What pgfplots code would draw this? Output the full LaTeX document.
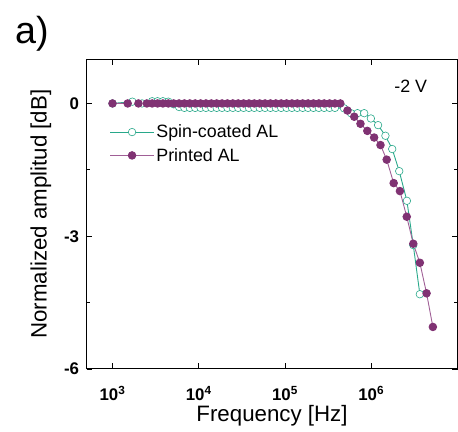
\documentclass[border=0pt]{standalone}
\usepackage{fontspec}
\setmainfont{Liberation Sans}
\usepackage{pgfplots}
\pgfplotsset{compat=1.18}
\usetikzlibrary{calc}
\definecolor{tealc}{RGB}{40,168,138}
\definecolor{purpm}{RGB}{128,50,115}
\definecolor{purpl}{RGB}{160,95,150}
\begin{document}
\begin{tikzpicture}
\begin{axis}[
  name=ax, at={(0,0)}, anchor=south west,
  scale only axis, width=373bp, height=311.5bp,
  xmode=log, log basis x=10,
  xmin=500, xmax=1e7, ymin=-6, ymax=1,
  xtick={1e3,1e4,1e5,1e6},
  xticklabels={{\textbf{10}\textsuperscript{\textbf{3}}},{\textbf{10}\textsuperscript{\textbf{4}}},{\textbf{10}\textsuperscript{\textbf{5}}},{\textbf{10}\textsuperscript{\textbf{6}}}},
  ytick={-6,-3,0}, yticklabels={\textbf{-6},\textbf{-3},\textbf{0}},
  minor ytick={-4.5,-1.5},
  tick align=inside,
  major tick length=6bp, minor tick length=3.5bp,
  every tick/.style={black, line width=0.8pt},
  axis line style={line width=1pt},
  tick label style={font=\fontsize{17}{17}\selectfont},
  xticklabel style={yshift=-14bp},
  yticklabel style={xshift=-4bp},
  xlabel={Frequency [Hz]}, ylabel={Normalized amplitud [dB]},
  label style={font=\fontsize{22.5}{22.5}\selectfont},
  xlabel style={yshift=2bp},
  ylabel style={yshift=6bp},
  legend cell align=left,
  legend style={at={(rel axis cs:0.062,0.795)}, anchor=north west, draw=none, fill=none,
    inner sep=0pt, row sep=5bp, font=\fontsize{18}{18}\selectfont,
    /tikz/every even column/.append style={column sep=0pt}},
  legend image code/.code={\draw[mark repeat=2,mark phase=2] plot coordinates {(0bp,0bp) (22bp,0bp) (44bp,0bp)};},
]
\addplot[color=tealc, line width=0.9pt, mark=*, mark size=3.8bp, mark options={fill=white, draw=tealc, line width=0.6pt}] coordinates {
(1000,0) (1700,0.04) (2200,0.0) (2885,0.05) (3331,0.05) (3845,0.05) (4438,0.04) (5123,-0.02) (5913,-0.08)
(6826,-0.1) (7880,-0.1) (9095,-0.1) (10499,-0.1) (12119,-0.1) (13989,-0.1) (16150,-0.1) (18641,-0.1)
(21518,-0.1) (24834,-0.1) (28666,-0.1) (33091,-0.1) (38194,-0.1) (44089,-0.1) (50893,-0.1) (58747,-0.1)
(67815,-0.1) (78278,-0.1) (90358,-0.1) (104300,-0.1) (120390,-0.1) (138970,-0.1) (160420,-0.1) (185170,-0.1)
(213740,-0.1) (246720,-0.1) (284800,-0.1) (328740,-0.1) (379460,-0.1)
(483000,-0.11) (582000,-0.22) (693000,-0.22) (828000,-0.22) (990000,-0.34) (1200000,-0.49)
(1460000,-0.73) (1750000,-1.03) (2110000,-1.53) (2590000,-2.20) (3070000,-3.2) (3660000,-4.31)
};
\addlegendentry{Spin-coated AL}
\addplot[color=purpl, line width=0.9pt, mark=*, mark size=3.8bp, mark options={fill=purpm, draw=purpm}] coordinates {
(1000,0) (1500,0) (2000,0) (2500,0) (2885,0) (3331,0) (3845,0) (4438,0) (5123,0) (5913,0)
(6826,0) (7880,0) (9095,0) (10499,0) (12119,0) (13989,0) (16150,0) (18641,0)
(21518,0) (24834,0) (28666,0) (33091,0) (38194,0) (44089,0) (50893,0) (58747,0)
(67815,0) (78278,0) (90358,0) (104300,0) (120390,0) (138970,0) (160420,0) (185170,0)
(213740,0) (246720,0) (284800,0) (328740,0) (379460,0) (438000,0)
(530000,-0.16) (635000,-0.30) (750000,-0.46) (900000,-0.62) (1080000,-0.77) (1280000,-0.94)
(1510000,-1.27) (1820000,-1.80) (2150000,-1.98) (2580000,-2.56) (3070000,-3.17) (3660000,-3.60)
(4380000,-4.29) (5180000,-5.05)
};
\addlegendentry{Printed AL}
\node[font=\fontsize{18}{18}\selectfont] at (rel axis cs:0.874,0.912) {-2 V};
\end{axis}
\node[font=\fontsize{38}{38}\selectfont] at ($(ax.south west)+(-55bp,337bp)$) {a)};
\useasboundingbox ($(ax.south west)+(-87bp,-63bp)$) rectangle ($(ax.south west)+(371bp,371bp)$);
\end{tikzpicture}
\end{document}
